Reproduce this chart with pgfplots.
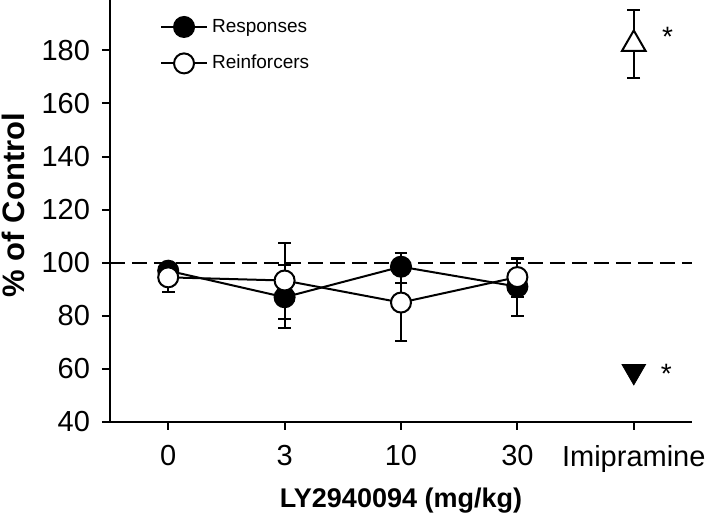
\documentclass[border=0pt]{standalone}
\usepackage{fontspec}
\setmainfont{Liberation Sans}
\usepackage{pgfplots}
\pgfplotsset{compat=1.18}
\begin{document}
\begin{tikzpicture}
\begin{axis}[
  at={(0pt,0pt)}, anchor=south west,
  scale only axis, width=291pt, height=211pt,
  xmin=-0.5, xmax=4.5, ymin=40, ymax=199,
  axis x line=bottom, axis y line=left,
  axis line style={-, line width=1.1pt},
  tick align=outside, major tick length=4pt,
  tick style={line width=1pt, black},
  xtick={0,1,2,3,4}, xticklabels={0,3,10,30,Imipramine},
  ytick={40,60,...,180},
  /pgf/number format/assume math mode=true,
  tick label style={font=\fontsize{14.5}{16}\selectfont},
  xticklabel style={yshift=-4pt},
  yticklabel style={xshift=-2.5pt},
  xlabel={\bfseries LY2940094 (mg/kg)},
  ylabel={\bfseries \% of Control},
  xlabel style={font=\fontsize{13.5}{16}\selectfont, at={(axis description cs:0.5,0)}, anchor=center, yshift=-39.5pt},
  ylabel style={font=\fontsize{15.5}{18}\selectfont, at={(axis description cs:-0.1667,0.514)}, anchor=center},
  legend style={draw=none, fill=none, at={(0.075,0.975)}, anchor=north west,
    font=\fontsize{9.5}{11}\selectfont, row sep=6pt, legend cell align=left,
    /tikz/every even column/.append style={column sep=5pt}},
  legend image code/.code={\draw[mark repeat=2,mark phase=2,#1] plot coordinates {(0pt,0pt)(11.5pt,0pt)(23pt,0pt)};},
  error bars/error bar style={line width=1pt, black},
  error bars/error mark options={rotate=90, mark size=3.2pt, line width=1pt, black},
]
% reference line at 100 %
\addplot[black, line width=1pt, dash pattern=on 7.5pt off 3.5pt, forget plot] coordinates {(-0.5,100) (4.5,100)};
% Responses
\addplot[black, line width=1pt, mark=*, mark size=5pt, mark options={solid, fill=black},
  error bars/.cd, y dir=both, y explicit]
  coordinates {
    (0,97) += (0,2) -= (0,2)
    (1,87) += (0,12) -= (0,11.5)
    (2,98.5) += (0,5) -= (0,6.3)
    (3,91) += (0,10.5) -= (0,11)
  };
\addlegendentry{Responses}
% Reinforcers
\addplot[black, line width=1pt, mark=*, mark size=5pt, mark options={solid, fill=white},
  error bars/.cd, y dir=both, y explicit]
  coordinates {
    (0,94.5) += (0,5.5) -= (0,5.5)
    (1,93.3) += (0,14) -= (0,14.4)
    (2,85) += (0,14.3) -= (0,14.3)
    (3,94.6) += (0,7.2) -= (0,7.5)
  };
\addlegendentry{Reinforcers}
% Imipramine
\addplot[black, only marks, mark=triangle*, mark size=6.8pt, mark options={solid, fill=white, line width=1pt}, forget plot,
  error bars/.cd, y dir=both, y explicit]
  coordinates {(4,182.4) += (0,13) -= (0,12.8)};
\addplot[black, only marks, mark=triangle*, mark size=6.8pt, mark options={solid, fill=black, rotate=180}, forget plot]
  coordinates {(4,59.1)};
\node[font=\fontsize{14}{16}\selectfont, yshift=-1.5pt] at (axis cs:4.29,186.4) {*};
\node[font=\fontsize{14}{16}\selectfont, yshift=-1.5pt] at (axis cs:4.28,59.4) {*};
\end{axis}
\pgfresetboundingbox
\path[use as bounding box] (-55pt,-47.5pt) rectangle (299.5pt,211pt);
\end{tikzpicture}
\end{document}
